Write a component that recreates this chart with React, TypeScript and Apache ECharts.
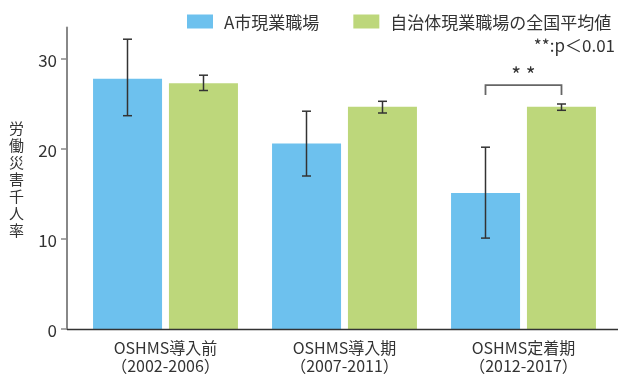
import React, { useEffect, useRef } from "react";
import * as echarts from "echarts";

const categories = ["OSHMS導入前\n（2002-2006）", "OSHMS導入期\n（2007-2011）", "OSHMS定着期\n（2012-2017）"];
const seriesNames = ["A市現業職場", "自治体現業職場の全国平均値"];
const cityValues = [27.8, 20.6, 15.1];
const cityLow = [23.7, 17.0, 10.1];
const cityHigh = [32.2, 24.2, 20.2];
const nationalValues = [27.3, 24.7, 24.7];
const nationalLow = [26.5, 24.0, 24.3];
const nationalHigh = [28.2, 25.3, 25.0];
const yTicks = [0, 10, 20, 30];
const yAxisTitle = "労働災害千人率";
const sigNote = "**:p＜0.01";
const sigMark = "* *";
const sigCategory = 2;

const FONT = "'Noto Sans CJK JP', 'Noto Sans', sans-serif";
const BLUE = "#6DC1EE";
const GREEN = "#BDD77B";
const BAR_W = 69;
const HALF = 38;

function errorRender(offset: number) {
  return (params: any, api: any) => {
    const idx = api.value(0);
    const lo = api.coord([idx, api.value(1)]);
    const hi = api.coord([idx, api.value(2)]);
    const x = lo[0] + offset;
    const cap = 4.5;
    const style = { stroke: "#333", lineWidth: 1.5 };
    return {
      type: "group",
      children: [
        { type: "line", shape: { x1: x, y1: lo[1], x2: x, y2: hi[1] }, style },
        { type: "line", shape: { x1: x - cap, y1: lo[1], x2: x + cap, y2: lo[1] }, style },
        { type: "line", shape: { x1: x - cap, y1: hi[1], x2: x + cap, y2: hi[1] }, style },
      ],
    };
  };
}

export default function App() {
  const ref = useRef<HTMLDivElement>(null);
  useEffect(() => {
    if (!ref.current) return;
    const chart = echarts.init(ref.current, null, { renderer: "svg" });
    chart.setOption({
      animation: false,
      textStyle: { fontFamily: FONT },
      legend: {
        left: 187,
        top: 13,
        width: 430,
        padding: 0,
        orient: "horizontal",
        itemWidth: 26,
        itemHeight: 14,
        itemGap: 34,
        icon: "rect",
        data: seriesNames,
        textStyle: { fontSize: 17, color: "#333", fontFamily: FONT, padding: [0, 0, 0, 6] },
      },
      grid: { left: 76, right: 6, top: 27.5, bottom: 45, containLabel: false },
      xAxis: {
        type: "category",
        data: categories,
        axisLine: { show: false },
        axisTick: { show: false },
        axisLabel: { fontSize: 16, color: "#333", lineHeight: 18, margin: 9, fontFamily: FONT },
      },
      yAxis: {
        type: "value",
        min: 0,
        max: 33.5,
        interval: 10,
        offset: 9,
        name: yAxisTitle.split("").join("\n"),
        nameLocation: "middle",
        nameRotate: 0,
        nameGap: 43,
        nameTextStyle: { fontSize: 15, lineHeight: 17, color: "#333", fontFamily: FONT },
        splitLine: { show: false },
        axisLine: { show: true, lineStyle: { color: "#888", width: 2 } },
        axisTick: { show: true, length: 6, lineStyle: { color: "#888", width: 1.5 }, customValues: yTicks },
        axisLabel: { fontSize: 17, color: "#333", margin: 10, customValues: yTicks, fontFamily: FONT },
      },
      graphic: [
        { type: "line", shape: { x1: 67, y1: 329.5, x2: 618, y2: 329.5 }, style: { stroke: "#333", lineWidth: 1.5 }, z: 10 },
        {
          type: "text",
          right: 4,
          top: 36,
          style: { text: sigNote, fontSize: 17, fill: "#333", fontFamily: FONT },
        },
      ],
      series: [
        {
          name: seriesNames[0],
          type: "bar",
          data: cityValues,
          barWidth: BAR_W,
          barGap: "10%",
          itemStyle: { color: BLUE },
        },
        {
          name: seriesNames[1],
          type: "bar",
          data: nationalValues,
          barWidth: BAR_W,
          barGap: "10%",
          itemStyle: { color: GREEN },
        },
        {
          type: "custom",
          renderItem: errorRender(-HALF),
          data: cityValues.map((_, i) => [i, cityLow[i], cityHigh[i]]),
          encode: { x: 0, y: [1, 2] },
          z: 5,
        },
        {
          type: "custom",
          renderItem: errorRender(HALF),
          data: nationalValues.map((_, i) => [i, nationalLow[i], nationalHigh[i]]),
          encode: { x: 0, y: [1, 2] },
          z: 5,
        },
        {
          type: "custom",
          renderItem: (params: any, api: any) => {
            const idx = api.value(0);
            const legBottom = api.coord([idx, api.value(1)]);
            const top = api.coord([idx, api.value(2)]);
            const star = api.coord([idx, api.value(3)]);
            const cx = legBottom[0];
            return {
              type: "group",
              children: [
                {
                  type: "polyline",
                  shape: {
                    points: [
                      [cx - HALF, legBottom[1]],
                      [cx - HALF, top[1]],
                      [cx + HALF, top[1]],
                      [cx + HALF, legBottom[1]],
                    ],
                  },
                  style: { stroke: "#666", lineWidth: 1.8, fill: null },
                },
                {
                  type: "text",
                  x: cx,
                  y: star[1],
                  style: { text: sigMark, fontSize: 21, fill: "#333", align: "center", verticalAlign: "middle", fontFamily: FONT },
                },
              ],
            };
          },
          data: [[sigCategory, 26.0, 27.1, 28.3]],
          encode: { x: 0, y: [1, 2] },
          z: 5,
        },
      ],
    });
    return () => chart.dispose();
  }, []);
  return <div ref={ref} style={{ position: "fixed", left: 0, top: 0, width: 619, height: 374 }} />;
}
